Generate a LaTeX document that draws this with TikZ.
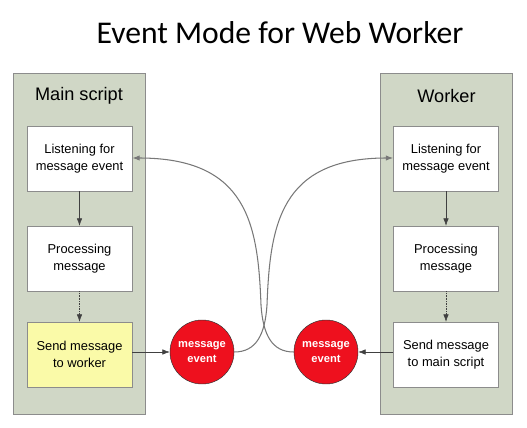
\documentclass[tikz,border=0pt]{standalone}
\usepackage{fontspec}
\setmainfont{Liberation Sans}
\newfontfamily\titlefont{Carlito}
\usetikzlibrary{positioning,arrows.meta}
\definecolor{wwPanel}{RGB}{208,215,198}
\definecolor{wwBorder}{RGB}{140,140,140}
\definecolor{wwYellow}{RGB}{250,250,168}
\definecolor{wwRed}{RGB}{238,16,30}
\definecolor{wwCurve}{RGB}{120,120,120}

\tikzset{
  panel/.style={draw=wwBorder, fill=wwPanel, minimum width=3.96cm, minimum height=10.23cm, inner sep=0pt},
  stepbox/.style={draw=wwBorder, fill=white, minimum width=3.15cm, minimum height=1.95cm, align=center, font=\fontsize{11}{14.4}\selectfont},
  msgevent/.style={circle, draw=black!80, fill=wwRed, minimum size=1.92cm, inner sep=0pt, align=center,
    text=white, font=\fontsize{9.5}{13}\selectfont\bfseries},
  flow/.style={-{Latex[length=2.2mm,width=1.6mm]}, black!75},
  crossing/.style={-{Latex[length=2.2mm,width=1.6mm]}, wwCurve, line width=0.9pt}
}

\begin{document}
\begin{tikzpicture}[x=0.03cm, y=-0.03cm]
  \useasboundingbox (0,0) rectangle (527,428);

  % Title
  \node[font=\titlefont\fontsize{27}{30}\selectfont] (title) at (280,33) {Event Mode for Web Worker};

  % Main script side
  \node[panel] (mainpanel) at (79,243.5) {};
  \node[font=\fontsize{15.5}{18}\selectfont] (mainlabel) at (79,96) {Main script};
  \node[stepbox] (mlisten) at (79.5,158.5) {Listening for\\message event};
  \node[stepbox] (mprocess) at (79.5,258.5) {Processing\\message};
  \node[stepbox, fill=wwYellow] (msend) at (79.5,354.5) {Send message\\to worker};

  % Worker side
  \node[panel] (workerpanel) at (446.5,243.5) {};
  \node[font=\fontsize{15.5}{18}\selectfont] (workerlabel) at (446.5,96) {Worker};
  \node[stepbox] (wlisten) at (446,158.5) {Listening for\\message event};
  \node[stepbox] (wprocess) at (446,258.5) {Processing\\message};
  \node[stepbox] (wsend) at (446,354.5) {Send message\\to main script};

  % Events
  \node[msgevent] (mevent) at (202,352) {message\\event};
  \node[msgevent] (wevent) at (326,352) {message\\event};

  % Flow inside each side
  \draw[flow] (mlisten) -- (mprocess);
  \draw[flow, densely dotted] (mprocess) -- (msend);
  \draw[flow] (wlisten) -- (wprocess);
  \draw[flow, densely dotted] (wprocess) -- (wsend);
  \draw[flow] (msend.east |- mevent) -- (mevent);
  \draw[flow] (wsend.west |- wevent) -- (wevent);

  % Crossing curves
  \coordinate (acurve) at (267,305);
  \coordinate (bcurve) at (261,305);
  \draw[crossing] (mevent.east) .. controls (256,352) and (265,335) .. (acurve)
    .. controls (270,225) and (280,158) .. (wlisten.west |- 0,158);
  \draw[crossing] (wevent.west) .. controls (272,352) and (263,335) .. (bcurve)
    .. controls (258,225) and (248,158) .. (mlisten.east |- 0,158);
\end{tikzpicture}
\end{document}
